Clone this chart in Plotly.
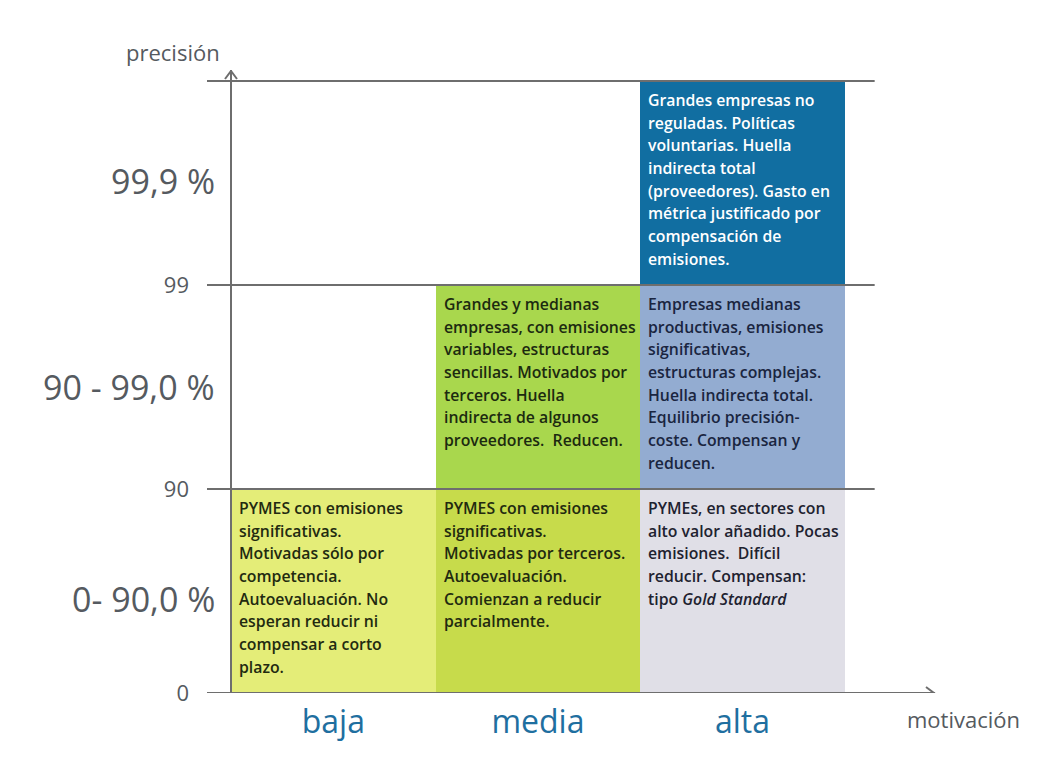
import plotly.graph_objects as go

# ---------------- data ----------------
motivacion = ["baja", "media", "alta"]
niveles_tick = ["0", "90", "99"]
bandas = ["0- 90,0 %", "90 - 99,0 %", "99,9 %"]

celda_col = [0, 1, 2, 1, 2, 2]
celda_banda = [0, 0, 0, 1, 1, 2]
celda_color = ["#e4ed78", "#c7db4b", "#e0dfe7", "#a9d74d", "#93acd1", "#116ea1"]
celda_texto_color = ["#222a10", "#222a10", "#1e2230", "#1c2a10", "#1a2540", "#ffffff"]
celda_texto = [
    ["PYMES con emisiones", "significativas.", "Motivadas sólo por", "competencia.",
     "Autoevaluación. No", "esperan reducir ni", "compensar a corto", "plazo."],
    ["PYMES con emisiones", "significativas.", "Motivadas por terceros.", "Autoevaluación.",
     "Comienzan a reducir", "parcialmente."],
    ["PYMEs, en sectores con", "alto valor añadido. Pocas", "emisiones.  Difícil",
     "reducir. Compensan:", "tipo <i>Gold Standard</i>"],
    ["Grandes y medianas", "empresas, con emisiones", "variables, estructuras",
     "sencillas. Motivados por", "terceros. Huella", "indirecta de algunos",
     "proveedores.  Reducen."],
    ["Empresas medianas", "productivas, emisiones", "significativas,",
     "estructuras complejas.", "Huella indirecta total.", "Equilibrio precisión-",
     "coste. Compensan y", "reducen."],
    ["Grandes empresas no", "reguladas. Políticas", "voluntarias. Huella",
     "indirecta total", "(proveedores). Gasto en", "métrica justificado por",
     "compensación de", "emisiones."],
]

# ---------------- layout constants ----------------
# the page body has an 8px margin, so the figure is drawn 8px smaller
W, H = 1053, 754
ML, MR, MT, MB = 199, 124, 62, 69
PX_X = 204.6  # pixels per column
PX_Y = 204.0  # pixels per band
AXIS_OFF = 24  # px between plot left edge and the vertical axis
plot_w = W - ML - MR
plot_h = H - MT - MB
x_range = [-AXIS_OFF / PX_X, (plot_w - AXIS_OFF) / PX_X]
y_range = [0, plot_h / PX_Y]
GRID_END = 3.146
GRAY = "#6e6e6e"
LABEL = "#555a60"
FONT = "Open Sans"

fig = go.Figure()

fig.add_trace(go.Bar(
    x=[c + 0.5 for c in celda_col],
    y=[1] * len(celda_col),
    base=celda_banda,
    width=1,
    marker=dict(color=celda_color, line=dict(width=0)),
    hoverinfo="skip",
    showlegend=False,
))

shapes = []
# horizontal grid lines at band boundaries
for lvl in range(1, len(bandas) + 1):
    shapes.append(dict(type="line", xref="x", yref="y", x0=x_range[0], x1=GRID_END,
                       y0=lvl, y1=lvl, line=dict(color=GRAY, width=2), layer="above"))
# axes
shapes.append(dict(type="line", xref="x", yref="y", x0=x_range[0], x1=x_range[1] - 0.01,
                   y0=0, y1=0, line=dict(color=GRAY, width=2), layer="above"))
shapes.append(dict(type="line", xref="x", yref="y", x0=0, x1=0,
                   y0=0, y1=y_range[1], line=dict(color=GRAY, width=2), layer="above"))
# arrow heads
shapes.append(dict(type="path", xref="x", yref="y", xsizemode="pixel", ysizemode="pixel",
                   xanchor=0, yanchor=y_range[1], path="M -6,-9 L 0,-1 L 6,-9",
                   line=dict(color=GRAY, width=2), layer="above"))
shapes.append(dict(type="path", xref="x", yref="y", xsizemode="pixel", ysizemode="pixel",
                   xanchor=x_range[1], yanchor=0, path="M -11,6 L -3,0 L -11,-6",
                   line=dict(color=GRAY, width=2), layer="above"))

annotations = []
for col, banda, lines, tc in zip(celda_col, celda_banda, celda_texto, celda_texto_color):
    for i, ln in enumerate(lines):
        annotations.append(dict(
            x=col, y=banda + 1, xref="x", yref="y", text=ln, showarrow=False,
            xanchor="left", yanchor="middle", xshift=6, yshift=-(19 + 22.65 * i),
            font=dict(family=FONT, size=15.8, color=tc, weight=600),
        ))

band_shift = [-8, 0, 2]
for b, lab in enumerate(bandas):
    annotations.append(dict(
        x=0, y=b + 0.5, xref="paper", yref="y", text=lab, showarrow=False,
        xanchor="right", yanchor="middle", xshift=10, yshift=band_shift[b],
        font=dict(family=FONT, size=34, color=LABEL),
    ))

annotations.append(dict(x=0, y=1, xref="paper", yref="paper", text="precisión",
                        showarrow=False, xanchor="right", yanchor="bottom",
                        xshift=15, yshift=1,
                        font=dict(family=FONT, size=22, color=LABEL)))
annotations.append(dict(x=1, y=0, xref="paper", yref="paper", text="motivación",
                        showarrow=False, xanchor="right", yanchor="top",
                        xshift=85, yshift=-9,
                        font=dict(family=FONT, size=22, color=LABEL)))

fig.update_layout(
    width=W, height=H,
    margin=dict(l=ML, r=MR, t=MT, b=MB),
    paper_bgcolor="white", plot_bgcolor="white",
    barmode="overlay", bargap=0,
    shapes=shapes, annotations=annotations,
    xaxis=dict(range=x_range, showgrid=False, zeroline=False, showline=False,
               tickvals=[i + 0.5 for i in range(len(motivacion))], ticktext=motivacion,
               ticks="", tickfont=dict(family=FONT, size=32, color="#1f6fa0", weight=500),
               ticklabelstandoff=7, fixedrange=True),
    yaxis=dict(range=y_range, showgrid=False, zeroline=False, showline=False,
               tickvals=list(range(len(niveles_tick))), ticktext=niveles_tick,
               ticks="", tickfont=dict(family=FONT, size=22, color=LABEL),
               ticklabelstandoff=17, fixedrange=True),
    font=dict(family=FONT),
)

fig.write_html("out.html", config={"displayModeBar": False})
